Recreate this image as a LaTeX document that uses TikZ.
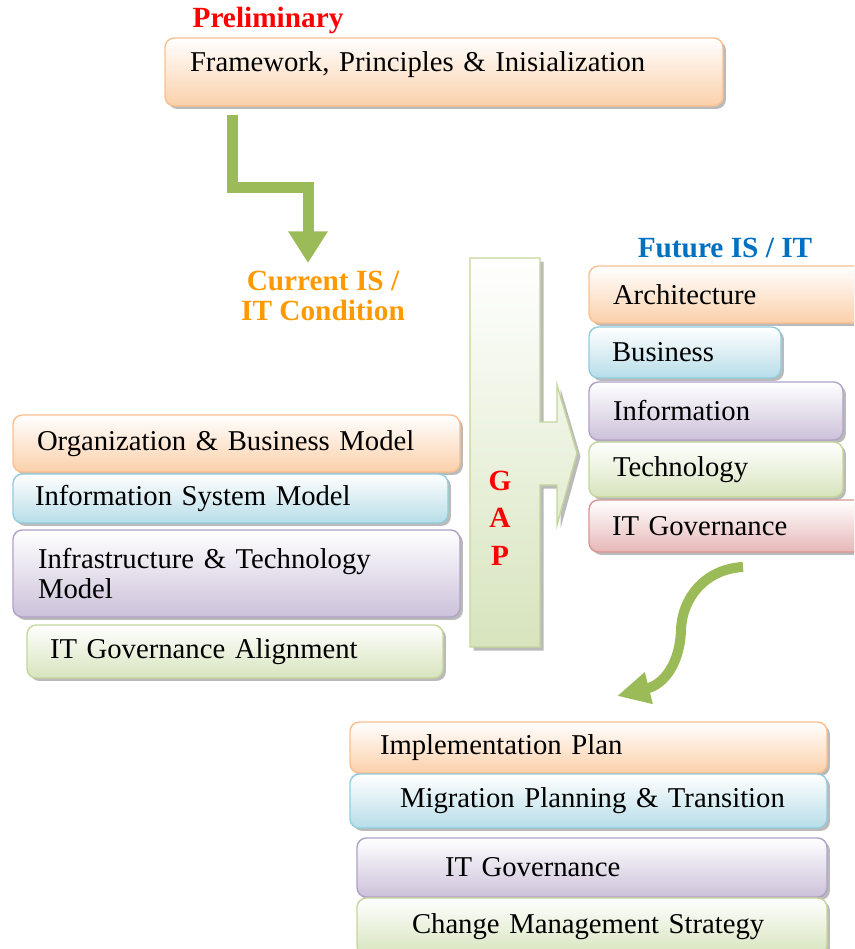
\documentclass[tikz,border=0pt]{standalone}
\usepackage{fontspec}
\setmainfont{Liberation Serif}
\usetikzlibrary{arrows.meta,shadows}

\definecolor{orangeline}{RGB}{250,191,143}
\definecolor{orangefill}{RGB}{251,208,170}
\definecolor{blueline}{RGB}{146,205,220}
\definecolor{bluefill}{RGB}{183,221,232}
\definecolor{purpline}{RGB}{178,161,199}
\definecolor{purpfill}{RGB}{204,193,218}
\definecolor{greenline}{RGB}{195,214,155}
\definecolor{greenfill}{RGB}{215,228,189}
\definecolor{redline}{RGB}{217,150,148}
\definecolor{redfill}{RGB}{230,184,183}
\definecolor{arrowgreen}{RGB}{155,187,89}
\definecolor{labelred}{RGB}{255,0,0}
\definecolor{labelorange}{RGB}{255,153,0}
\definecolor{labelblue}{RGB}{0,112,192}

\newlength\pxl
\setlength\pxl{0.03cm}
\newcommand\bodyfont{\fontsize{24.5}{25.6}\selectfont}
\newcommand\headfont{\fontsize{25}{25.6}\selectfont\bfseries}

\tikzset{
  box/.style 2 args={draw=#1, top color=white, bottom color=#2, rounded corners=8pt,
    line width=1.2pt, inner sep=0pt, align=left, font=\bodyfont,
    drop shadow={shadow xshift=2.5pt, shadow yshift=-2.5pt, fill=black!45, opacity=.6}},
  obox/.style={box={orangeline}{orangefill}},
  bbox/.style={box={blueline}{bluefill}},
  pbox/.style={box={purpline}{purpfill}},
  gbox/.style={box={greenline}{greenfill}},
  rbox/.style={box={redline}{redfill}},
  head/.style={font=\headfont, align=center},
  bigarrow/.style={draw=arrowgreen, line width=11\pxl, line join=miter},
  gaparrow/.style={draw=greenline, top color=white, bottom color=greenfill, line width=1.2pt,
    drop shadow={shadow xshift=3pt, shadow yshift=-3pt, fill=black!45, opacity=.6}},
}

\begin{document}
\begin{tikzpicture}[x=0.03cm, y=-0.03cm]
\useasboundingbox (0,0) rectangle (854,949);
\clip (0,0) rectangle (854,949);

% preliminary
\node[head, text=labelred] (prelim) at (268,20) {Preliminary};
\node[obox, text width=558\pxl, minimum height=68\pxl, text depth=20\pxl] (frame) at (444,72)
  {\hspace*{25\pxl}Framework, Principles \& Inisialization};

\coordinate (elbowtop) at (232,115);
\coordinate (elbowtip) at (308,263);
\draw[bigarrow, -{Triangle[width=32pt,length=27pt]}] (elbowtop) |- (308,187) -- (elbowtip);

% current
\node[head, text=labelorange] (current) at (323,296) {Current IS /\\IT Condition};
\node[obox, text width=447\pxl, minimum height=57\pxl] (orgbiz) at (236.5,443.5)
  {\hspace*{24\pxl}Organization \& Business Model};
\node[bbox, text width=435\pxl, minimum height=49\pxl] (infosys) at (230.5,498.5)
  {\hspace*{22\pxl}Information System Model};
\node[pbox, text width=447\pxl, minimum height=87\pxl] (infra) at (236.5,573.5)
  {\hspace*{25\pxl}Infrastructure \& Technology\\\hspace*{25\pxl}Model};
\node[gbox, text width=416\pxl, minimum height=53\pxl] (itgalign) at (235,651.5)
  {\hspace*{23\pxl}IT Governance Alignment};

% gap
\draw[gaparrow] (470,258) -- (540,258) -- (540,422) -- (557,422) -- (557,385) -- (577,453)
  -- (557,525) -- (557,485) -- (540,485) -- (540,647) -- (470,647) -- cycle;
\node[head, text=labelred, font=\fontsize{25}{32}\selectfont\bfseries] (gap) at (500,518) {G\\A\\P};

% future
\node[head, text=labelblue] (future) at (725,248) {Future IS / IT};
\node[obox, text width=291\pxl, minimum height=57\pxl] (arch) at (734.5,294.5)
  {\hspace*{24\pxl}Architecture};
\node[bbox, text width=192\pxl, minimum height=51\pxl] (bus) at (685,352.5)
  {\hspace*{23\pxl}Business};
\node[pbox, text width=254\pxl, minimum height=58\pxl] (info) at (716,411)
  {\hspace*{24\pxl}Information};
\node[gbox, text width=254\pxl, minimum height=55\pxl] (tech) at (716,469.5)
  {\hspace*{24\pxl}Technology};
\node[rbox, text width=291\pxl, minimum height=52\pxl] (itgov) at (734.5,526)
  {\hspace*{23\pxl}IT Governance};

\coordinate (curvestart) at (743,567);
\coordinate (curvetip) at (617,696);
\draw[bigarrow, line width=10\pxl, -{Triangle[width=26pt,length=28pt]}] (curvestart)
  .. controls (705,569) and (682,598) .. (681,630)
  .. controls (680,662) and (665,684) .. (curvetip);

% implementation
\node[obox, text width=477\pxl, minimum height=51\pxl] (impl) at (588.5,747.5)
  {\hspace*{30\pxl}Implementation Plan};
\node[bbox, text width=477\pxl, minimum height=54\pxl] (migr) at (588.5,801)
  {\hspace*{50\pxl}Migration Planning \& Transition};
\node[pbox, text width=470\pxl, minimum height=59\pxl] (govern) at (592,867.5)
  {\hspace*{88\pxl}IT Governance};
\node[gbox, text width=470\pxl, minimum height=57\pxl] (change) at (592,926.5)
  {\hspace*{55\pxl}Change Management Strategy};
\end{tikzpicture}
\end{document}
